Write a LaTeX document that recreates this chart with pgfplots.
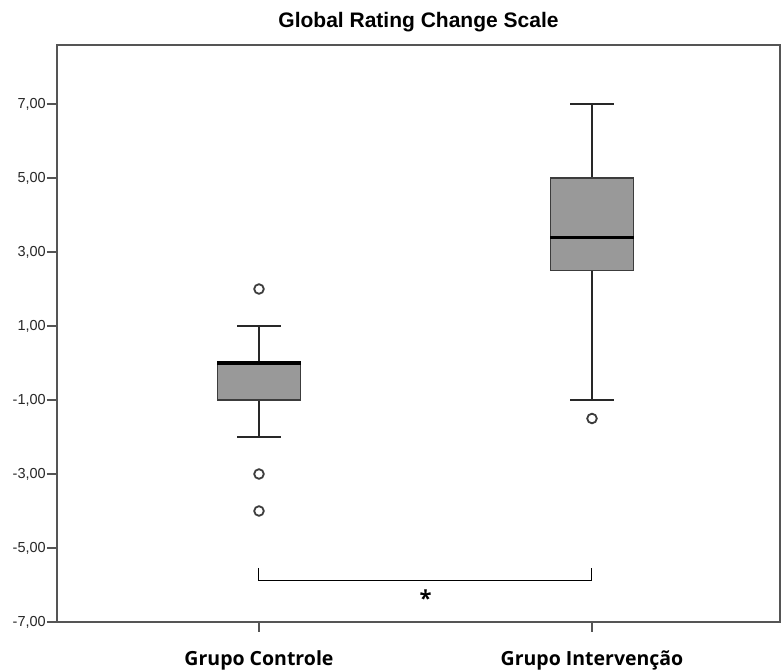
\documentclass[border=0pt]{standalone}
\usepackage{pgfplots}
\pgfplotsset{compat=1.18}
\usepgfplotslibrary{statistics}
\usepackage{fontspec}
\setmainfont{Liberation Sans}
\newfontfamily\labfont{Open Sans}
\definecolor{axisgray}{RGB}{85,85,85}
\definecolor{boxgray}{RGB}{153,153,153}
\definecolor{outgray}{RGB}{60,60,60}
\definecolor{whiskgray}{RGB}{40,40,40}
\begin{document}
\begin{tikzpicture}
\useasboundingbox (0pt,0pt) rectangle (781pt,671pt);
\begin{axis}[
  at={(57pt,49pt)}, anchor=south west,
  scale only axis, width=723pt, height=577pt,
  xmin=-0.6066, xmax=1.5646,
  ymin=-7, ymax=8.595,
  axis line style={draw=axisgray, line width=1.5pt},
  tick align=outside, tick pos=left,
  major tick length=10pt,
  tick style={draw=axisgray, line width=1.5pt},
  xtick={0,1}, xticklabels={,},
  ytick={-7,-5,-3,-1,1,3,5,7},
  yticklabels={{-7,00},{-5,00},{-3,00},{-1,00},{1,00},{3,00},{5,00},{7,00}},
  yticklabel style={font=\fontsize{14.5}{16}\selectfont, text=black!85, inner sep=1pt},
  clip=false,
  boxplot/draw direction=y,
  boxplot/every box/.style={fill=boxgray, draw=outgray, line width=1.2pt},
  boxplot/every whisker/.style={draw=whiskgray, line width=2pt},
  boxplot/every median/.style={draw=black, line width=3.3pt},
]
\addplot[boxplot prepared={draw position=0, lower whisker=-2, lower quartile=-1,
  median=0, upper quartile=0, upper whisker=1, box extend=0.25, whisker extend=0.13},
  mark=o, mark size=4.8pt, mark options={draw=outgray, line width=1.8pt}]
  table[row sep=\\, y index=0] {2\\ -3\\ -4\\};
\addplot[boxplot prepared={draw position=1, lower whisker=-1, lower quartile=2.5,
  median=3.4, upper quartile=5, upper whisker=7, box extend=0.25, whisker extend=0.13},
  mark=o, mark size=4.8pt, mark options={draw=outgray, line width=1.8pt}]
  table[row sep=\\, y index=0] {-1.5\\};
\addplot[black, line width=1pt, mark=none] coordinates {(0,-5.54) (0,-5.89) (1,-5.89) (1,-5.54)};
\node[font=\labfont\bfseries\fontsize{22}{24}\selectfont] at (axis cs:0.5,-6.35) {*};
\end{axis}
\node[anchor=base, font=\bfseries\fontsize{21}{23}\selectfont] at (418.5pt,643pt) {Global Rating Change Scale};
\node[anchor=base, font=\labfont\bfseries\fontsize{19.5}{22}\selectfont] at (259pt,5pt) {Grupo Controle};
\node[anchor=base, font=\labfont\bfseries\fontsize{19.5}{22}\selectfont] at (592pt,5pt) {Grupo Intervenção};
\end{tikzpicture}
\end{document}
